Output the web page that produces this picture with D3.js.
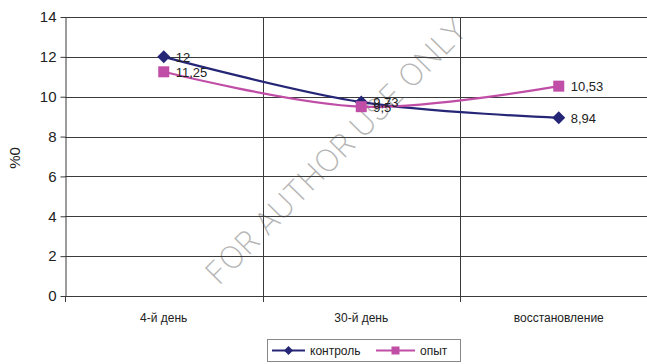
<!DOCTYPE html>
<html><head><meta charset="utf-8">
<script src="https://cdn.jsdelivr.net/npm/d3@7"></script>
<style>body{margin:0;background:#fff}svg{display:block;font-family:"Liberation Sans",Arial,sans-serif}</style>
</head><body>
<svg id="c" width="647" height="364"></svg>
<script>
const categories = ["4-й день", "30-й день", "восстановление"];
const kontrol = [12, 9.73, 8.94];
const opyt = [11.25, 9.5, 10.53];
const kontrolLabels = ["12", "9,73", "8,94"];
const opytLabels = ["11,25", "9,5", "10,53"];
const yTicks = [0, 2, 4, 6, 8, 10, 12, 14];
const seriesNames = ["контроль", "опыт"];

const svg = d3.select("#c");
const pLeft = 65, pTop = 17, pBottom = 296, pRight = 647;
const x = d3.scaleBand().domain(categories).range([pLeft, pLeft + 3 * 197.5]);
const y = d3.scaleLinear().domain([0, 14]).range([pBottom, pTop]);
const grid = "#3a3a3a";

// watermark (behind)
svg.append("text").attr("transform", "translate(338,153) rotate(-45.5)")
  .attr("text-anchor", "middle").attr("dominant-baseline", "middle")
  .attr("font-size", 31).attr("font-family", "Inter, 'DejaVu Sans', sans-serif").attr("font-weight", 200)
  .attr("fill", "#b5b5b5")
  .text("FOR AUTHOR USE ONLY");

// horizontal gridlines
svg.append("g").selectAll("line").data(yTicks).join("line")
  .attr("x1", pLeft).attr("x2", pRight)
  .attr("y1", d => Math.round(y(d)) + 0.5).attr("y2", d => Math.round(y(d)) + 0.5)
  .attr("stroke", grid).attr("stroke-width", 1);

// y axis
const yAxis = d3.axisLeft(y).tickValues(yTicks).tickSize(5).tickPadding(4).tickSizeOuter(0);
const ya = svg.append("g").attr("transform", `translate(${pLeft + 0.5},0)`).call(yAxis);
ya.select(".domain").attr("stroke", grid);
ya.selectAll(".tick line").attr("stroke", grid);
ya.selectAll(".tick text").attr("font-size", 15).attr("fill", "#222").attr("font-family", "Liberation Sans, Arial, sans-serif");

// vertical category boundaries
const bounds = categories.slice(1).map(c => x(c));
svg.append("g").selectAll("line").data(bounds).join("line")
  .attr("x1", d => Math.round(d) + 0.5).attr("x2", d => Math.round(d) + 0.5)
  .attr("y1", pTop).attr("y2", pBottom + 6)
  .attr("stroke", grid);
svg.append("line").attr("x1", pLeft + 0.5).attr("x2", pLeft + 0.5).attr("y1", pBottom).attr("y2", pBottom + 6).attr("stroke", grid);

// category labels
svg.append("g").selectAll("text").data(categories).join("text")
  .attr("x", d => x(d) + x.bandwidth() / 2).attr("y", 322)
  .attr("text-anchor", "middle").attr("font-size", 12).attr("fill", "#222")
  .text(d => d);

// y title
svg.append("text").attr("transform", "translate(20,158) rotate(-90)")
  .attr("text-anchor", "middle").attr("font-size", 15).attr("fill", "#222").text("%0");

const cx = d => x(d) + x.bandwidth() / 2;
const line = d3.line().curve(d3.curveCardinal.tension(0)).x(d => cx(d[0])).y(d => y(d[1]));

const series = [
  {name: seriesNames[0], vals: kontrol, labels: kontrolLabels, color: "#262677", shape: "diamond"},
  {name: seriesNames[1], vals: opyt, labels: opytLabels, color: "#c04ea6", shape: "square"}
];

function marker(g, shape, color, px, py) {
  if (shape === "diamond") {
    g.append("path").attr("d", `M${px},${py - 6.5}L${px + 6.5},${py}L${px},${py + 6.5}L${px - 6.5},${py}Z`).attr("fill", color);
  } else {
    g.append("rect").attr("x", px - 5.5).attr("y", py - 5.5).attr("width", 11).attr("height", 11).attr("fill", color);
  }
}

series.forEach(s => {
  const pts = categories.map((c, i) => [c, s.vals[i]]);
  svg.append("path").attr("d", line(pts)).attr("fill", "none").attr("stroke", s.color).attr("stroke-width", 2.2);
});
series.forEach(s => {
  const g = svg.append("g");
  categories.forEach((c, i) => marker(g, s.shape, s.color, cx(c), y(s.vals[i])));
});
series.forEach(s => {
  svg.append("g").selectAll("text").data(categories).join("text")
    .attr("x", c => cx(c) + 12).attr("y", (c, i) => y(s.vals[i]) + 5)
    .attr("font-size", 13).attr("fill", "#222")
    .text((c, i) => s.labels[i]);
});

// legend
const lg = svg.append("g");
lg.append("rect").attr("x", 267.5).attr("y", 339.5).attr("width", 193).attr("height", 22)
  .attr("fill", "#fff").attr("stroke", "#888");
const legendItems = [
  {s: series[0], x1: 272, x2: 305, tx: 310},
  {s: series[1], x1: 376, x2: 415, tx: 420}
];
legendItems.forEach(it => {
  lg.append("line").attr("x1", it.x1).attr("x2", it.x2).attr("y1", 350.5).attr("y2", 350.5)
    .attr("stroke", it.s.color).attr("stroke-width", 2.2);
  const m = (it.x1 + it.x2) / 2;
  if (it.s.shape === "diamond") {
    lg.append("path").attr("d", `M${m},${350.5 - 4.5}L${m + 4.5},350.5L${m},${350.5 + 4.5}L${m - 4.5},350.5Z`).attr("fill", it.s.color);
  } else {
    lg.append("rect").attr("x", m - 4).attr("y", 346.5).attr("width", 8).attr("height", 8).attr("fill", it.s.color);
  }
  lg.append("text").attr("x", it.tx).attr("y", 355).attr("font-size", 12).attr("fill", "#222").text(it.s.name);
});
</script>
</body></html>
